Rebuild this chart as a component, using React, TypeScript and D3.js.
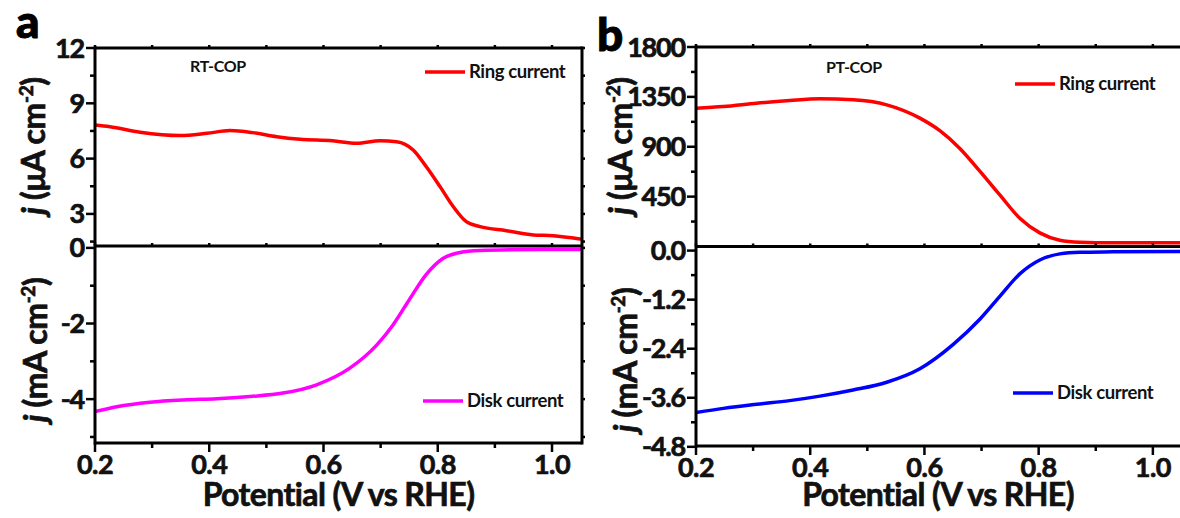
import React from "react";
import * as d3 from "d3";

// ---------- data ----------
const ringAx = [0.2, 0.226, 0.279, 0.349, 0.396, 0.436, 0.476, 0.518, 0.559, 0.616, 0.658, 0.699, 0.728, 0.757, 0.78, 0.804, 0.827, 0.85, 0.874, 0.92, 0.967, 1.002, 1.049];
const ringAy = [7.82, 7.73, 7.43, 7.25, 7.37, 7.52, 7.41, 7.19, 7.05, 6.97, 6.83, 6.97, 6.92, 6.47, 5.56, 4.48, 3.4, 2.58, 2.31, 2.09, 1.86, 1.82, 1.64];
const diskAx = [0.2, 0.238, 0.296, 0.355, 0.413, 0.471, 0.529, 0.588, 0.646, 0.693, 0.722, 0.751, 0.78, 0.809, 0.839, 0.874, 0.931, 1.049];
const diskAy = [-4.33, -4.2, -4.08, -4.02, -3.99, -3.93, -3.84, -3.62, -3.18, -2.57, -2.03, -1.35, -0.7, -0.28, -0.12, -0.07, -0.05, -0.04];
const ringBx = [0.2, 0.248, 0.306, 0.364, 0.417, 0.475, 0.534, 0.592, 0.627, 0.662, 0.697, 0.732, 0.767, 0.802, 0.837, 0.872, 0.93, 1.047];
const ringBy = [1248, 1263, 1293, 1317, 1332, 1323, 1278, 1158, 1045, 885, 680, 465, 255, 123, 57, 39, 33, 33];
const diskBx = [0.2, 0.248, 0.306, 0.364, 0.417, 0.475, 0.534, 0.592, 0.65, 0.697, 0.732, 0.767, 0.802, 0.837, 0.872, 0.93, 1.047];
const diskBy = [-3.96, -3.86, -3.76, -3.67, -3.56, -3.41, -3.22, -2.89, -2.3, -1.68, -1.12, -0.57, -0.23, -0.08, -0.04, -0.03, -0.02];

const xMajor = [0.2, 0.4, 0.6, 0.8, 1.0];
const xMinor = [0.3, 0.5, 0.7, 0.9];
const aTopMajor = [3, 6, 9, 12];
const aTopMinor = [1.5, 4.5, 7.5, 10.5];
const aBotMajor = [0, -2, -4];
const aBotMinor = [-1, -3, -5];
const bTopMajor = [450, 900, 1350, 1800];
const bTopMinor = [225, 675, 1125, 1575];
const bBotMajor = [0, -1.2, -2.4, -3.6, -4.8];
const bBotMinor = [-0.6, -1.8, -3.0, -4.2];

const FONT = "Lato, 'Open Sans', sans-serif";

type PanelProps = {
  id: string;
  letter: string;
  letterX: number;
  letterY: number;
  x0: number;
  x1: number;
  xMax: number;
  yTop: number;
  yMid: number;
  yBot: number;
  topDomain: [number, number];
  botDomain: [number, number];
  topMajor: number[];
  topMinor: number[];
  botMajor: number[];
  botMinor: number[];
  fmtTop: (v: number) => string;
  fmtBot: (v: number) => string;
  ring: [number[], number[]];
  disk: [number[], number[]];
  diskColor: string;
  sample: string;
  sampleX: number;
  sampleY: number;
  ringLeg: [number, number];
  diskLeg: [number, number];
  rightAxis: boolean;
  titleTop: [number, number];
  titleBot: [number, number];
};

const heavy = { stroke: "#111", strokeWidth: 0.7, paintOrder: "stroke" } as const;

function Panel(p: PanelProps) {
  const x = d3.scaleLinear().domain([0.2, p.xMax]).range([p.x0, p.x1]);
  const yT = d3.scaleLinear().domain(p.topDomain).range([p.yMid, p.yTop]);
  const yB = d3.scaleLinear().domain(p.botDomain).range([p.yBot, p.yMid]);
  const lineT = d3
    .line<number>()
    .x((_, i) => x(p.ring[0][i]))
    .y((d) => yT(d))
    .curve(d3.curveMonotoneX);
  const lineB = d3
    .line<number>()
    .x((_, i) => x(p.disk[0][i]))
    .y((d) => yB(d))
    .curve(d3.curveMonotoneX);
  const sw = 3;
  const clipId = "clip" + p.id;
  const tickLab = { fontFamily: FONT, fontWeight: 700, fontSize: 27, fill: "#111", ...heavy } as const;
  const xCenter = (p.x0 + p.x1) / 2;
  return (
    <g>
      <defs>
        <clipPath id={clipId}>
          <rect x={p.x0} y={p.yTop - 10} width={p.x1 - p.x0} height={p.yBot - p.yTop + 20} />
        </clipPath>
      </defs>
      {/* curves */}
      <g clipPath={`url(#${clipId})`}>
        <path d={lineT(p.ring[1]) || ""} fill="none" stroke="#ff0000" strokeWidth={3.5} strokeLinejoin="round" strokeLinecap="round" />
        <path d={lineB(p.disk[1]) || ""} fill="none" stroke={p.diskColor} strokeWidth={3.5} strokeLinejoin="round" strokeLinecap="round" />
      </g>
      {/* frame */}
      <g stroke="#000" strokeWidth={sw} fill="none">
        <line x1={p.x0} x2={p.x1} y1={p.yTop} y2={p.yTop} />
        <line x1={p.x0} x2={p.x1} y1={p.yMid} y2={p.yMid} />
        <line x1={p.x0} x2={p.x1} y1={p.yBot} y2={p.yBot} />
        <line x1={p.x0} x2={p.x0} y1={p.yTop - sw / 2} y2={p.yBot + sw / 2} />
        {p.rightAxis && <line x1={p.x1} x2={p.x1} y1={p.yTop - sw / 2} y2={p.yBot + sw / 2} />}
      </g>
      {/* x ticks */}
      <g stroke="#000" strokeWidth={2.5}>
        {xMajor.map((v) => (
          <g key={"xm" + v}>
            <line x1={x(v)} x2={x(v)} y1={p.yBot} y2={p.yBot + 9} />
            <line x1={x(v)} x2={x(v)} y1={p.yTop} y2={p.yTop - 3} />
            <line x1={x(v)} x2={x(v)} y1={p.yMid} y2={p.yMid - 3} />
          </g>
        ))}
        {xMinor.map((v) => (
          <g key={"xn" + v}>
            <line x1={x(v)} x2={x(v)} y1={p.yBot} y2={p.yBot + 5} />
            <line x1={x(v)} x2={x(v)} y1={p.yTop} y2={p.yTop - 3} />
            <line x1={x(v)} x2={x(v)} y1={p.yMid} y2={p.yMid - 3} />
          </g>
        ))}
        {/* y ticks */}
        {p.topMajor.map((v) => (
          <line key={"tm" + v} x1={p.x0} x2={p.x0 - 9} y1={yT(v)} y2={yT(v)} />
        ))}
        {p.topMinor.map((v) => (
          <line key={"tn" + v} x1={p.x0} x2={p.x0 - 5} y1={yT(v)} y2={yT(v)} />
        ))}
        {p.botMajor.map((v) => (
          <line key={"bm" + v} x1={p.x0} x2={p.x0 - 9} y1={yB(v)} y2={yB(v)} />
        ))}
        {p.botMinor.map((v) => (
          <line key={"bn" + v} x1={p.x0} x2={p.x0 - 5} y1={yB(v)} y2={yB(v)} />
        ))}
        {p.rightAxis &&
          [...p.topMajor, ...p.topMinor].map((v) => (
            <line key={"rt" + v} x1={p.x1} x2={p.x1 + 3} y1={yT(v)} y2={yT(v)} />
          ))}
        {p.rightAxis &&
          [...p.botMajor, ...p.botMinor].map((v) => (
            <line key={"rb" + v} x1={p.x1} x2={p.x1 + 3} y1={yB(v)} y2={yB(v)} />
          ))}
      </g>
      {/* tick labels */}
      {xMajor.map((v) => (
        <text key={"xl" + v} x={x(v)} y={p.yBot + 31} textAnchor="middle" {...tickLab} letterSpacing={-0.5}>
          {v.toFixed(1)}
        </text>
      ))}
      {p.topMajor.map((v) => (
        <text key={"tl" + v} x={p.x0 - 11} y={yT(v) + 9.5} textAnchor="end" {...tickLab} letterSpacing={-1.2}>
          {p.fmtTop(v)}
        </text>
      ))}
      {p.botMajor.map((v) => (
        <text key={"bl" + v} x={p.x0 - 11} y={yB(v) + 9.5} textAnchor="end" {...tickLab} letterSpacing={-1.2}>
          {p.fmtBot(v)}
        </text>
      ))}
      {/* axis titles */}
      <text x={xCenter} y={506} textAnchor="middle" fontFamily={FONT} fontWeight={700} fontSize={32} fill="#111" letterSpacing={-0.6} {...heavy}>
        Potential (V vs RHE)
      </text>
      <text transform={`translate(${p.titleTop[0]},${p.titleTop[1]}) rotate(-90)`} textAnchor="middle" fontFamily={FONT} fontWeight={700} fontSize={32} fill="#111" letterSpacing={-0.4} {...heavy}>
        <tspan fontStyle="italic">j</tspan>
        <tspan> (μA cm</tspan>
        <tspan dy={-12} fontSize={19}>-2</tspan>
        <tspan dy={12}>)</tspan>
      </text>
      <text transform={`translate(${p.titleBot[0]},${p.titleBot[1]}) rotate(-90)`} textAnchor="middle" fontFamily={FONT} fontWeight={700} fontSize={32} fill="#111" letterSpacing={-0.4} {...heavy}>
        <tspan fontStyle="italic">j</tspan>
        <tspan> (mA cm</tspan>
        <tspan dy={-12} fontSize={19}>-2</tspan>
        <tspan dy={12}>)</tspan>
      </text>
      {/* panel letter */}
      <text x={p.letterX} y={p.letterY} fontFamily={FONT} fontWeight={900} fontSize={46} fill="#000" stroke="#000" strokeWidth={1}>
        {p.letter}
      </text>
      {/* sample label */}
      <text x={p.sampleX} y={p.sampleY} fontFamily={FONT} fontWeight={700} fontSize={16} fill="#111" letterSpacing={-0.3}>
        {p.sample}
      </text>
      {/* legends */}
      <line x1={p.ringLeg[0]} x2={p.ringLeg[0] + 40} y1={p.ringLeg[1]} y2={p.ringLeg[1]} stroke="#ff0000" strokeWidth={3.5} />
      <text x={p.ringLeg[0] + 44} y={p.ringLeg[1] + 6} fontFamily={FONT} fontWeight={700} fontSize={18.5} fill="#111" letterSpacing={-0.4}>
        Ring current
      </text>
      <line x1={p.diskLeg[0]} x2={p.diskLeg[0] + 40} y1={p.diskLeg[1]} y2={p.diskLeg[1]} stroke={p.diskColor} strokeWidth={3.5} />
      <text x={p.diskLeg[0] + 44} y={p.diskLeg[1] + 6} fontFamily={FONT} fontWeight={700} fontSize={18.5} fill="#111" letterSpacing={-0.4}>
        Disk current
      </text>
    </g>
  );
}

export default function App() {
  return (
    <svg width={1180} height={518} style={{ position: "absolute", left: 0, top: 0, background: "#fff" }}>
      <rect width={1180} height={518} fill="#fff" />
      <Panel
        id="a"
        letter="a"
        letterX={16}
        letterY={38}
        x0={95}
        x1={582}
        xMax={1.0525}
        yTop={48}
        yMid={246}
        yBot={443}
        topDomain={[1.26, 12]}
        botDomain={[-5.16, 0.05]}
        topMajor={aTopMajor}
        topMinor={aTopMinor}
        botMajor={aBotMajor}
        botMinor={aBotMinor}
        fmtTop={(v) => d3.format("d")(v)}
        fmtBot={(v) => (v < 0 ? "-" + Math.abs(v) : String(v))}
        ring={[ringAx, ringAy]}
        disk={[diskAx, diskAy]}
        diskColor="#ff00ff"
        sample="RT-COP"
        sampleX={190}
        sampleY={72}
        ringLeg={[425, 72]}
        diskLeg={[423, 401]}
        rightAxis={true}
        titleTop={[45, 146]}
        titleBot={[47, 350]}
      />
      <Panel
        id="b"
        letter="b"
        letterX={597}
        letterY={51}
        x0={696}
        x1={1180}
        xMax={1.0475}
        yTop={47}
        yMid={246.5}
        yBot={446}
        topDomain={[0, 1800]}
        botDomain={[-4.78, 0.1]}
        topMajor={bTopMajor}
        topMinor={bTopMinor}
        botMajor={bBotMajor}
        botMinor={bBotMinor}
        fmtTop={(v) => d3.format("d")(v)}
        fmtBot={(v) => (v < 0 ? "-" + Math.abs(v).toFixed(1) : "0.0")}
        ring={[ringBx, ringBy]}
        disk={[diskBx, diskBy]}
        diskColor="#0000ff"
        sample="PT-COP"
        sampleX={826}
        sampleY={73}
        ringLeg={[1015, 84]}
        diskLeg={[1013, 393]}
        rightAxis={false}
        titleTop={[632, 146]}
        titleBot={[637, 360]}
      />
    </svg>
  );
}
